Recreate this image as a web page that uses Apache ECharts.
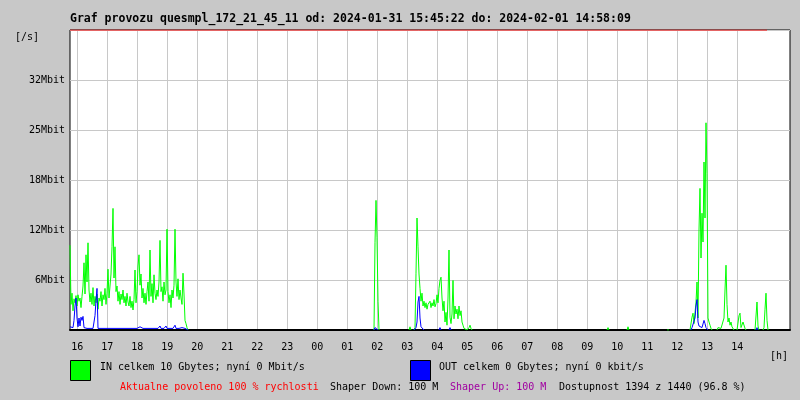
<!DOCTYPE html>
<html>
<head>
<meta charset="utf-8">
<script src="https://cdn.jsdelivr.net/npm/echarts@6/dist/echarts.min.js"></script>
<style>html,body{margin:0;padding:0;background:#c8c8c8;}#c{width:800px;height:400px;}</style>
</head>
<body>
<div id="c"></div>
<script>
// ---- axis / label data ----
const titleText = 'Graf provozu quesmpl_172_21_45_11 od: 2024-01-31 15:45:22 do: 2024-02-01 14:58:09';
const hourLabels = ['16','17','18','19','20','21','22','23','00','01','02','03','04','05','06','07','08','09','10','11','12','13','14'];
const firstHourOffset = 14 + 38 / 60; // minutes from 15:45:22 to 16:00:00
const totalMinutes = 1440;
const dataEnd = 1394;                  // minutes with data
const yLabels = ['', '6Mbit', '12Mbit', '18Mbit', '25Mbit', '32Mbit', ''];
const yStep = 6.25;                    // Mbit per grid line
const yMax = 37.5;
const sampleStep = 2;                  // minutes per sample

// ---- IN traffic (Mbit/s), segments: start minute + samples ----
const inStarts = [0, 608, 678, 688, 1074, 1114, 1194, 1240, 1294, 1334, 1370, 1386];
const in1 = [10.6,3.2,4.6,2.4,3.9,3.4,4.3,3.0,4.4,3.6,4.0,2.8,4.2,5.5,8.4,4.5,9.4,6.0,10.9,5.0,
  3.5,4.6,3.2,5.3,3.0,4.2,3.4,4.5,2.6,4.0,3.6,4.8,3.0,4.4,3.8,5.2,3.2,4.6,7.6,4.0,
  5.5,7.0,10.4,15.2,6.5,10.4,4.8,5.5,3.6,4.8,3.2,4.5,3.8,5.0,3.4,4.2,3.0,4.6,3.5,3.0,
  4.2,2.8,3.6,2.5,3.8,7.5,3.4,4.8,8.0,9.4,5.6,7.0,4.0,5.2,3.4,4.6,3.2,4.8,6.0,3.6,
  10.0,4.2,5.8,3.4,6.9,4.6,3.8,5.0,4.2,6.0,11.2,4.8,5.4,3.6,6.0,4.4,5.0,12.6,4.8,3.4,
  4.4,2.8,5.0,4.0,5.6,12.6,6.0,4.2,6.4,3.8,5.0,4.0,3.2,7.1,4.5,1.2,0.8,0.3,0];
const in2 = [0,10.9,16.2,11.6,3.6,0];
const in3 = [0,0.4,0];
const in4 = [0,0.3,7.1,14.0,10.4,7.0,5.2,3.6,4.6,3.0,3.6,2.8,3.4,2.6,3.2,3.0,3.6,2.8,3.4,3.0,
  3.8,2.9,3.3,4.4,3.4,5.2,6.2,6.6,4.0,2.4,3.6,1.0,2.2,0.6,4.0,10.0,1.6,0.8,2.0,6.2,
  1.4,3.0,2.0,2.6,1.4,3.0,1.8,2.4,1.0,0.6,0.2,0,0.4,0,0,0.3,0.6,0.2,0];
const in5 = [0,0.3,0];
const in6 = [0,0.4,0];
const in7 = [0,0.2,0];
const in8 = [0,0.2,1.6,2.1,0.8,1.0,3.5,6.0,1.5,12.5,17.7,9.0,14.6,11.0,21.0,14.0,25.9,19.6,1.5,1.0,0.6,0.2,0];
const in9 = [0,0.3,0.3,0.3,0.2,0.3,0.2,1.5,5.0,8.1,3.2,1.0,1.5,0.6,1.0,0.4,0.2,0];
const in10 = [0,0.2,1.8,2.1,0.3,0.5,1.0,1.0,0.2,0];
const in11 = [0,0.2,3.5,0.5,0];
const in12 = [0,0.3,2.6,4.6,1.2,0];
const inSegs = [in1,in2,in3,in4,in5,in6,in7,in8,in9,in10,in11,in12];

// ---- OUT traffic (Mbit/s) ----
const outStarts = [0, 608, 688, 738, 758, 1242, 1372];
const out1 = [0.4,0.3,0.5,0.3,1.2,3.0,4.0,1.5,0.4,1.5,0.5,1.6,1.2,1.7,0.3,0.2,0.2,0.2,0.2,0.2,
  0.2,0.2,0.2,0.2,0.2,1.8,3.7,5.2,0.2,0.2,0.2,0.2,0.2,0.2,0.2,0.2,0.2,0.2,0.3,0.2,
  0.2,0.2,0.2,0.2,0.2,0.2,0.2,0.2,0.2,0.2,0.2,0.2,0.2,0.2,0.2,0.2,0.2,0.2,0.2,0.2,
  0.2,0.2,0.2,0.2,0.2,0.2,0.2,0.2,0.2,0.2,0.4,0.2,0.2,0.2,0.2,0.2,0.2,0.2,0.2,0.2,
  0.2,0.2,0.2,0.3,0.2,0.2,0.2,0.2,0.2,0.2,0.5,0.2,0.2,0.2,0.2,0.2,0.5,0.2,0.2,0.2,
  0.2,0.2,0.2,0.2,0.2,0.6,0.2,0.2,0.2,0.2,0.2,0.2,0.3,0.2,0.2,0.2,0.2,0.2,0];
const out2 = [0,0.3,0.3,0.3,0];
const out3 = [0,0.2,0.3,1.0,3.5,4.2,1.5,0.4,0.2,0.2,0];
const out4 = [0,0.3,0];
const out5 = [0,0.3,0];
const out6 = [0,0.3,0.3,0.5,1.5,3.0,3.8,1.0,0.5,0.4,0.3,0.3,0.5,1.2,0.8,0.3,0.2,0];
const out7 = [0,0.3,0];
const outSegs = [out1,out2,out3,out4,out5,out6,out7];

function build(starts, segs) {
  const res = [];
  segs.forEach((vals, k) => {
    vals.forEach((v, i) => res.push([starts[k] + sampleStep * i, v]));
    res.push([starts[k] + sampleStep * vals.length, '-']);
  });
  return res;
}

const hourValues = hourLabels.map((_, i) => firstHourOffset + 60 * i);
const mono = '"DejaVu Sans Mono", "Liberation Mono", monospace';

const chart = echarts.init(document.getElementById('c'), null, {renderer: 'canvas'});
chart.setOption({
  animation: false,
  backgroundColor: '#c8c8c8',
  grid: {left: 70, right: 10, top: 30, bottom: 70, show: true, backgroundColor: '#ffffff', borderColor: '#000', borderWidth: 1},
  xAxis: {
    type: 'value', min: 0, max: totalMinutes,
    axisLine: {show: true, onZero: false, lineStyle: {color: '#000', width: 2}},
    axisTick: {show: false, customValues: hourValues},
    axisLabel: {
      customValues: hourValues, margin: 12, color: '#000', fontFamily: mono, fontSize: 10,
      formatter: v => hourLabels[Math.round((v - firstHourOffset) / 60)]
    },
    splitLine: {show: true, lineStyle: {color: '#c8c8c8', width: 1}}
  },
  yAxis: {
    type: 'value', min: 0, max: yMax, interval: yStep,
    axisLine: {show: false}, axisTick: {show: false},
    axisLabel: {margin: 5, color: '#000', fontFamily: mono, fontSize: 10,
      formatter: v => yLabels[Math.round(v / yStep)] || ''},
    splitLine: {show: true, lineStyle: {color: '#c8c8c8', width: 1}}
  },
  series: [
    {type: 'line', name: 'IN', data: build(inStarts, inSegs), showSymbol: false, symbol: 'none',
      lineStyle: {color: '#00ff00', width: 1}, connectNulls: false, z: 3},
    {type: 'line', name: 'OUT', data: build(outStarts, outSegs), showSymbol: false, symbol: 'none',
      lineStyle: {color: '#0000ff', width: 1}, connectNulls: false, z: 4},
    {type: 'line', name: 'limit', data: [[0, yMax], [dataEnd, yMax]], showSymbol: false, symbol: 'none',
      lineStyle: {color: '#ff0000', width: 1}, z: 5}
  ],
  graphic: [
    {type: 'text', x: 70, y: 19, style: {text: titleText, fill: '#000', font: 'bold 11.5px ' + mono, align: 'left', verticalAlign: 'middle'}},
    {type: 'text', x: 15, y: 37, style: {text: '[/s]', fill: '#000', font: '10px ' + mono, align: 'left', verticalAlign: 'middle'}},
    {type: 'text', x: 770, y: 356, style: {text: '[h]', fill: '#000', font: '10px ' + mono, align: 'left', verticalAlign: 'middle'}},
    {type: 'rect', shape: {x: 70.5, y: 360.5, width: 20, height: 20}, style: {fill: '#00ff00', stroke: '#000', lineWidth: 1}},
    {type: 'text', x: 100, y: 367, style: {text: 'IN celkem 10 Gbytes; nyní 0 Mbit/s', fill: '#000', font: '10px ' + mono, align: 'left', verticalAlign: 'middle'}},
    {type: 'rect', shape: {x: 410.5, y: 360.5, width: 20, height: 20}, style: {fill: '#0000ff', stroke: '#000', lineWidth: 1}},
    {type: 'text', x: 439, y: 367, style: {text: 'OUT celkem 0 Gbytes; nyní 0 kbit/s', fill: '#000', font: '10px ' + mono, align: 'left', verticalAlign: 'middle'}},
    {type: 'text', x: 120, y: 387, style: {text: 'Aktualne povoleno 100 % rychlosti', fill: '#ff0000', font: '10px ' + mono, align: 'left', verticalAlign: 'middle'}},
    {type: 'text', x: 330, y: 387, style: {text: 'Shaper Down: 100 M', fill: '#000', font: '10px ' + mono, align: 'left', verticalAlign: 'middle'}},
    {type: 'text', x: 450, y: 387, style: {text: 'Shaper Up: 100 M', fill: '#a000a0', font: '10px ' + mono, align: 'left', verticalAlign: 'middle'}},
    {type: 'text', x: 559, y: 387, style: {text: 'Dostupnost 1394 z 1440 (96.8 %)', fill: '#000', font: '10px ' + mono, align: 'left', verticalAlign: 'middle'}}
  ]
});
</script>
</body>
</html>
